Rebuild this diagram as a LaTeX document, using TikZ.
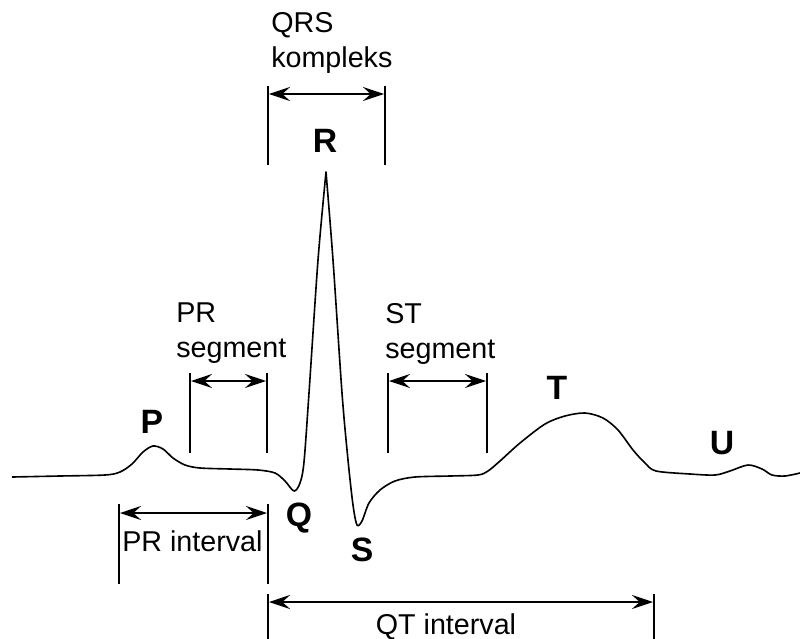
\documentclass[tikz,border=0pt]{standalone}
\usepackage{fontspec}
\setmainfont{Liberation Sans}
\usetikzlibrary{arrows.meta}

\begin{document}
\begin{tikzpicture}[x=0.025cm, y=-0.025cm]
                \tikzset{Wave/.style={%
                    draw=black,%
                    line width=1.15pt,%
                    line join=round,%
                },
                Tick/.style={%
                    draw=black,%
                    line width=1.3pt,%
                },
                Span/.style={%
                    draw=black,%
                    line width=1.3pt,%
                    {Stealth[length=15pt,width=10pt,inset=5.5pt]}-{Stealth[length=15pt,width=10pt,inset=5.5pt]},%
                    shorten <=0.7pt, shorten >=0.7pt,%
                },
                Peak/.style={%
                    font=\bfseries\fontsize{24}{28}\selectfont,%
                    inner sep=0pt,%
                    anchor=base,%
                },
                Caption/.style={%
                    font=\fontsize{20.4}{25}\selectfont,%
                    inner sep=0pt,%
                    align=left,%
                }}
                \useasboundingbox (0,0) rectangle (800,638);

                % the trace
                \path[Wave] plot[smooth] coordinates {(12,477) (60,476) (105,475) (120,472)
                    (132,464) (143,452) (153,446) (163,449) (173,458) (185,465) (200,468)
                    (230,469) (258,470) (275,473) (285,481) (294,491) (300,483) (304,462)
                    (309,393) (318,260) (326,172)}
                    -- plot[smooth] coordinates {(326,172) (333,260) (342,393) (348,460)
                    (353,505) (357,525) (362,521) (369,503) (380,490) (395,481) (415,477)
                    (450,476) (478,475) (488,471) (500,461) (520,443) (545,424) (565,416)
                    (585,413) (603,418) (618,430) (633,450) (645,463) (656,471) (690,474)
                    (715,475) (730,471) (748,465) (762,469) (772,475) (785,476) (800,473)};

                % wave names
                \node[Peak] (p) at (152,433) {P};
                \node[Peak] (q) at (299,526) {Q};
                \node[Peak] (r) at (325,152) {R};
                \node[Peak] (s) at (362,561) {S};
                \node[Peak] (t) at (557,399) {T};
                \node[Peak] (u) at (722,454) {U};

                % QRS kompleks
                \coordinate (qrsLt) at (268,86);
                \coordinate (qrsLb) at (268,165);
                \coordinate (qrsRt) at (385,86);
                \coordinate (qrsRb) at (385,165);
                \coordinate (qrsA) at (268,94);
                \coordinate (qrsB) at (385,94);
                \node[Caption, anchor=north west] (qrs) at (271,12) {QRS\\kompleks};
                \path (qrsLt) edge[Tick] (qrsLb);
                \path (qrsRt) edge[Tick] (qrsRb);
                \path (qrsA) edge[Span] (qrsB);

                % PR segment
                \coordinate (prsLt) at (190,373);
                \coordinate (prsLb) at (190,453);
                \coordinate (prsRt) at (267,373);
                \coordinate (prsRb) at (267,453);
                \coordinate (prsA) at (190,381);
                \coordinate (prsB) at (267,381);
                \node[Caption, anchor=north west] (prs) at (176,302) {PR\\segment};
                \path (prsLt) edge[Tick] (prsLb);
                \path (prsRt) edge[Tick] (prsRb);
                \path (prsA) edge[Span] (prsB);

                % ST segment
                \coordinate (stsLt) at (388,373);
                \coordinate (stsLb) at (388,453);
                \coordinate (stsRt) at (487,373);
                \coordinate (stsRb) at (487,453);
                \coordinate (stsA) at (388,381);
                \coordinate (stsB) at (487,381);
                \node[Caption, anchor=north west] (sts) at (385,303) {ST\\segment};
                \path (stsLt) edge[Tick] (stsLb);
                \path (stsRt) edge[Tick] (stsRb);
                \path (stsA) edge[Span] (stsB);

                % PR interval
                \coordinate (priLt) at (119,504);
                \coordinate (priLb) at (119,584);
                \coordinate (priRt) at (268,504);
                \coordinate (priRb) at (268,584);
                \coordinate (priA) at (119,513);
                \coordinate (priB) at (268,513);
                \node[Caption, anchor=base west] (pri) at (122,551) {PR interval};
                \path (priLt) edge[Tick] (priLb);
                \path (priRt) edge[Tick] (priRb);
                \path (priA) edge[Span] (priB);

                % QT interval
                \coordinate (qtiLt) at (268,594);
                \coordinate (qtiLb) at (268,640);
                \coordinate (qtiRt) at (654,594);
                \coordinate (qtiRb) at (654,640);
                \coordinate (qtiA) at (268,602);
                \coordinate (qtiB) at (654,602);
                \node[Caption, anchor=base] (qti) at (446,634) {QT interval};
                \path (qtiLt) edge[Tick] (qtiLb);
                \path (qtiRt) edge[Tick] (qtiRb);
                \path (qtiA) edge[Span] (qtiB);
            \end{tikzpicture}
\end{document}
